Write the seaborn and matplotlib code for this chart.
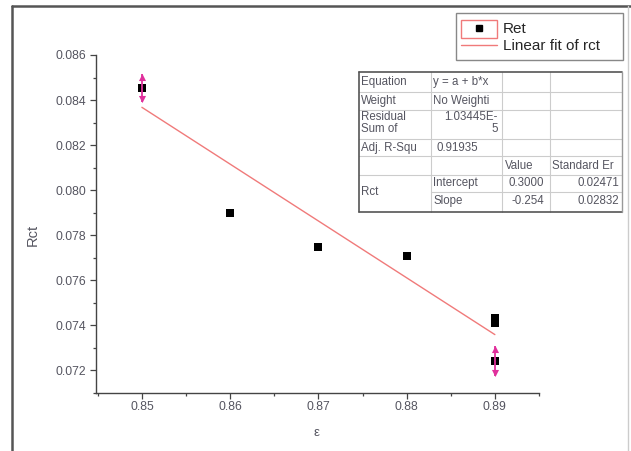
import numpy as np
import matplotlib
matplotlib.use("Agg")
import matplotlib.pyplot as plt
from matplotlib.lines import Line2D
from matplotlib.patches import Rectangle
from matplotlib.ticker import MultipleLocator, FormatStrFormatter
import seaborn as sns

# data
eps = np.array([0.85, 0.86, 0.87, 0.88, 0.89, 0.89, 0.89])
rct = np.array([0.08453, 0.0790, 0.07748, 0.07707, 0.07431, 0.07409, 0.0724])
err_idx = [0, 6]
rct_err = np.array([0.00064, 0.00066])

fit_intercept = 0.2983
fit_slope = -0.2525
fit_x = np.array([0.85, 0.89])

# fit report table text
table_rows = [
    ["Equation", "y = a + b*x", "", ""],
    ["Weight", "No Weighti", "", ""],
    ["Residual\nSum of", "1.03445E-\n5", "", ""],
    ["Adj. R-Squ", "0.91935", "", ""],
    ["", "", "Value", "Standard Er"],
    ["Rct", "Intercept", "0.3000", "0.02471"],
    ["", "Slope", "-0.254", "0.02832"],
]

sns.set_theme(style="ticks")
plt.rcParams['font.family'] = ['Liberation Sans', 'DejaVu Sans']

W, H = 631, 451
fig = plt.figure(figsize=(W / 100, H / 100), dpi=100)


def fx(x):
    return x / W


def fy(y):
    return 1 - y / H


ax = fig.add_axes([fx(96), fy(393), fx(539) - fx(96), fy(55) - fy(393)])

red = '#f07a7a'
mag = '#e0309c'
txt = '#555560'

fit_y = fit_intercept + fit_slope * fit_x
sns.lineplot(x=fit_x, y=fit_y, color=red, lw=1, ax=ax, zorder=2)

ax.errorbar(eps[err_idx], rct[err_idx], yerr=rct_err, fmt='none',
            ecolor=mag, elinewidth=1.3, capsize=0, zorder=4)
ax.scatter(eps[err_idx], rct[err_idx] + rct_err * 0.78, marker='^', s=26,
           color=mag, linewidths=0, zorder=4)
ax.scatter(eps[err_idx], rct[err_idx] - rct_err * 0.78, marker='v', s=26,
           color=mag, linewidths=0, zorder=4)
sns.scatterplot(x=eps, y=rct, marker='s', s=36, color='black',
                edgecolor='black', linewidth=0, ax=ax, legend=False, zorder=3)

ax.set_xlim(0.8448, 0.895)
ax.set_ylim(0.07098, 0.086)
ax.xaxis.set_major_locator(MultipleLocator(0.01))
ax.xaxis.set_minor_locator(MultipleLocator(0.005))
ax.yaxis.set_major_locator(MultipleLocator(0.002))
ax.yaxis.set_minor_locator(MultipleLocator(0.001))
ax.xaxis.set_major_formatter(FormatStrFormatter('%.2f'))
ax.yaxis.set_major_formatter(FormatStrFormatter('%.3f'))
sns.despine(ax=ax)
for s in ['left', 'bottom']:
    ax.spines[s].set_color('#444444')
    ax.spines[s].set_linewidth(1)
ax.tick_params(which='major', length=4, width=0.9, color='#444444',
               labelsize=8.8, labelcolor=txt)
ax.tick_params(which='minor', length=2.5, width=0.9, color='#444444')
ax.tick_params(axis='x', which='major', pad=1.5)
ax.tick_params(axis='y', which='major', pad=3)
ax.set_xlabel("")
ax.set_ylabel("")
fig.text(fx(33), fy(235), "Rct", rotation=90, ha='center', va='center',
         fontsize=10.5, color=txt)
fig.text(fx(317), fy(433), "ε", ha='center', va='center', fontsize=9.5,
         color=txt)

# legend
handles = [Line2D([], [], marker='s', color='black', ls='none', markersize=5),
           Line2D([], [], color=red, lw=1)]
leg = fig.legend(handles, ['Ret', 'Linear fit of rct'], loc='upper left',
                 bbox_to_anchor=(fx(461), fy(22)), frameon=False,
                 fontsize=11, handlelength=2.35, borderpad=0.0,
                 labelspacing=0.2, handletextpad=0.4, borderaxespad=0)
fig.add_artist(Rectangle((fx(456), fy(60)), fx(623) - fx(456),
                         fy(13) - fy(60), transform=fig.transFigure,
                         fill=False, edgecolor='#888888', lw=1))
fig.add_artist(Rectangle((fx(461), fy(38)), fx(497) - fx(461),
                         fy(20) - fy(38), transform=fig.transFigure,
                         fill=False, edgecolor=red, lw=1, zorder=10))

# fit table
col_x = [359, 431, 502, 550, 622]
row_y = [72, 92, 110, 139, 156, 175, 192, 212]
light = '#cccccc'
dark = '#555555'


def fline(x0, y0, x1, y1, c, lw):
    fig.add_artist(Line2D([fx(x0), fx(x1)], [fy(y0), fy(y1)], color=c,
                          lw=lw, transform=fig.transFigure))


fig.add_artist(Rectangle((fx(col_x[0]), fy(row_y[-1])),
                         fx(col_x[-1]) - fx(col_x[0]),
                         fy(row_y[0]) - fy(row_y[-1]),
                         transform=fig.transFigure, facecolor='white',
                         edgecolor='none', zorder=0))
for y in row_y[1:-1]:
    x0 = col_x[1] if y == 192 else col_x[0]
    fline(x0, y, col_x[-1], y, light, 0.8)
for x in col_x[1:-1]:
    fline(x, row_y[0], x, row_y[-1], light, 0.8)
fline(col_x[0], row_y[0], col_x[-1], row_y[0], dark, 1.2)
fline(col_x[0], row_y[-1], col_x[-1], row_y[-1], dark, 1.2)
fline(col_x[0], row_y[0], col_x[0], row_y[-1], dark, 1.2)
fline(col_x[-1], row_y[0], col_x[-1], row_y[-1], '#999999', 1)

text_y = [82, 101, 123, 148, 166, 183, 201]
tfs = 8.3
for r, row in enumerate(table_rows):
    y = text_y[r]
    a, b, c, d = row
    if a:
        ya = 192 if a == "Rct" else y
        fig.text(fx(361), fy(ya), a, ha='left', va='center', fontsize=tfs,
                 color=txt, linespacing=1.0)
    if b:
        if r == 2:
            fig.text(fx(498), fy(y), b, ha='right', va='center',
                     fontsize=tfs, color=txt, linespacing=1.0)
        elif r == 3:
            fig.text(fx(457), fy(y), b, ha='center', va='center',
                     fontsize=tfs, color=txt)
        else:
            fig.text(fx(433), fy(y), b, ha='left', va='center',
                     fontsize=tfs, color=txt)
    if c:
        if r == 4:
            fig.text(fx(505), fy(y), c, ha='left', va='center',
                     fontsize=tfs, color=txt)
        else:
            fig.text(fx(544), fy(y), c, ha='right', va='center',
                     fontsize=tfs, color=txt)
    if d:
        if r == 4:
            fig.text(fx(552), fy(y), d, ha='left', va='center',
                     fontsize=tfs, color=txt)
        else:
            fig.text(fx(619), fy(y), d, ha='right', va='center',
                     fontsize=tfs, color=txt)

# outer frame of the source image
fline(12, 6, 12, H, '#555555', 1.8)
fline(12, 6, W, 6, '#555555', 1.8)
fline(628, 6, 628, H, '#cccccc', 1)

fig.savefig("out.png", dpi=100)
